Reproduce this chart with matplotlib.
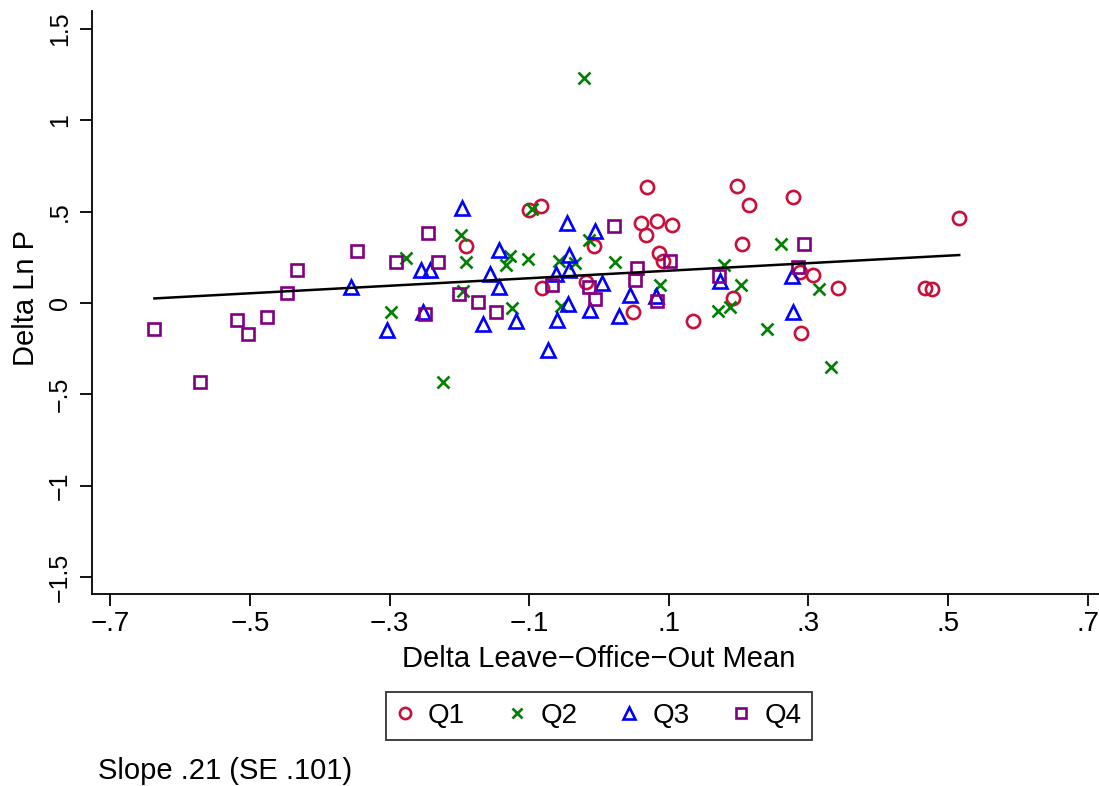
import matplotlib
matplotlib.use("Agg")
import numpy as np
import matplotlib.pyplot as plt

plt.rcParams['font.family'] = ['Liberation Sans', 'DejaVu Sans']

# Data
q1_x = [-0.101, -0.083, -0.190, -0.081, -0.018, -0.007, 0.069, 0.198, 0.215, 0.278,
        0.060, 0.083, 0.104, 0.067, 0.205, 0.086, 0.091, 0.288, 0.306, 0.192,
        0.048, 0.135, 0.290, 0.516, 0.343, 0.467, 0.477]
q1_y = [0.511, 0.529, 0.310, 0.083, 0.117, 0.314, 0.633, 0.640, 0.535, 0.582,
        0.438, 0.451, 0.429, 0.374, 0.321, 0.274, 0.227, 0.172, 0.154, 0.025,
        -0.052, -0.101, -0.167, 0.466, 0.081, 0.081, 0.078]

q2_x = [-0.096, -0.198, -0.277, -0.190, -0.128, -0.134, -0.102, -0.058, -0.034, -0.014,
        -0.195, -0.298, -0.125, -0.054, -0.224, 0.023, 0.261, 0.179, 0.087, 0.203,
        0.315, 0.170, 0.187, 0.240, 0.332, -0.022]
q2_y = [0.515, 0.374, 0.247, 0.223, 0.256, 0.209, 0.238, 0.227, 0.220, 0.347,
        0.065, -0.050, -0.028, -0.014, -0.431, 0.223, 0.323, 0.209, 0.101, 0.097,
        0.074, -0.046, -0.023, -0.145, -0.351, 1.231]

q3_x = [-0.197, -0.046, -0.144, -0.043, -0.255, -0.242, -0.156, -0.043, -0.062, -0.143,
        -0.356, -0.252, -0.304, -0.166, -0.119, -0.060, -0.044, -0.073, -0.013, -0.006,
        0.004, 0.045, 0.082, 0.173, 0.277, 0.029, 0.278]
q3_y = [0.518, 0.436, 0.292, 0.260, 0.178, 0.178, 0.159, 0.178, 0.160, 0.090,
        0.090, -0.050, -0.150, -0.117, -0.101, -0.096, -0.008, -0.260, -0.041, 0.395,
        0.110, 0.045, 0.036, 0.119, 0.150, -0.070, -0.050]

q4_x = [-0.432, -0.447, -0.637, -0.518, -0.503, -0.475, -0.571, -0.347, -0.291, -0.245,
        -0.230, -0.200, -0.173, -0.148, -0.249, -0.067, -0.015, -0.006, 0.021, 0.294,
        0.054, 0.101, 0.052, 0.285, 0.172, 0.083]
q4_y = [0.178, 0.054, -0.141, -0.092, -0.172, -0.078, -0.431, 0.287, 0.223, 0.382,
        0.223, 0.050, 0.005, -0.050, -0.059, 0.096, 0.090, 0.023, 0.420, 0.323,
        0.190, 0.227, 0.128, 0.196, 0.150, 0.010]

fit_slope = 0.206
fit_intercept = 0.156

x_ticks = [-0.7, -0.5, -0.3, -0.1, 0.1, 0.3, 0.5, 0.7]
x_tick_labels = ['\u2212.7', '\u2212.5', '\u2212.3', '\u2212.1', '.1', '.3', '.5', '.7']
y_ticks = [-1.5, -1, -0.5, 0, 0.5, 1, 1.5]
y_tick_labels = ['\u22121.5', '\u22121', '\u2212.5', '0', '.5', '1', '1.5']

W, H = 1099, 786
fig = plt.figure(figsize=(W / 100, H / 100), dpi=100)
ax_left, ax_bottom, ax_top = 92.5, 594.3, 10.7
ax = fig.add_axes([ax_left / W, 1 - ax_bottom / H, 1 - ax_left / W, (ax_bottom - ax_top) / H])

h1, = ax.plot(q1_x, q1_y, 'o', ms=9.5, mfc='none', mec='#c8103c', mew=1.9, label='Q1')
h2, = ax.plot(q2_x, q2_y, 'x', ms=8, mec='#008000', mew=1.9, label='Q2')
h3, = ax.plot(q3_x, q3_y, '^', ms=10, mfc='none', mec='#0000ff', mew=1.9, label='Q3')
h4, = ax.plot(q4_x, q4_y, 's', ms=9, mfc='none', mec='#800080', mew=1.9, label='Q4')

all_x = np.concatenate([q1_x, q2_x, q3_x, q4_x])
xs = np.array([all_x.min(), all_x.max()])
ax.plot(xs, fit_intercept + fit_slope * xs, color='black', lw=1.8)

ax.set_xlim(-0.7257, 0.7163)
ax.set_ylim(-1.595, 1.6)
ax.set_xticks(x_ticks)
ax.set_xticklabels(x_tick_labels, fontsize=20)
ax.set_yticks(y_ticks)
ax.set_yticklabels(y_tick_labels, fontsize=18, rotation=90, va='center')
ax.tick_params(length=8.3, width=1.3)
ax.tick_params(axis='x', pad=3.5)
ax.tick_params(axis='y', pad=6.3)

for s in ['top', 'right']:
    ax.spines[s].set_visible(False)
for s in ['left', 'bottom']:
    ax.spines[s].set_linewidth(1.3)

axw = W - ax_left
axh = ax_bottom - ax_top
ax.set_xlabel('Delta Leave\u2212Office\u2212Out Mean', fontsize=21)
ax.xaxis.label.set_verticalalignment('baseline')
ax.xaxis.set_label_coords((599 - ax_left) / axw, (ax_bottom - 667) / axh)
ax.set_ylabel('Delta Ln P', fontsize=21)
ax.yaxis.label.set_verticalalignment('baseline')
ax.yaxis.set_label_coords((34 - ax_left) / axw, (ax_bottom - 298) / axh)

leg = fig.legend(handles=[h1, h2, h3, h4], loc='center', ncol=4,
                 bbox_to_anchor=(599 / W, 1 - 716 / H), fontsize=20,
                 frameon=True, fancybox=False, edgecolor='black',
                 markerscale=0.85, handlelength=0.6, handletextpad=0.53,
                 columnspacing=1.57, borderpad=0.4)
leg.get_frame().set_linewidth(1.3)

fig.text(98 / W, 1 - 779 / H, 'Slope .21 (SE .101)', fontsize=21, va='baseline', ha='left')

fig.savefig('out.png', dpi=100)
plt.close(fig)
